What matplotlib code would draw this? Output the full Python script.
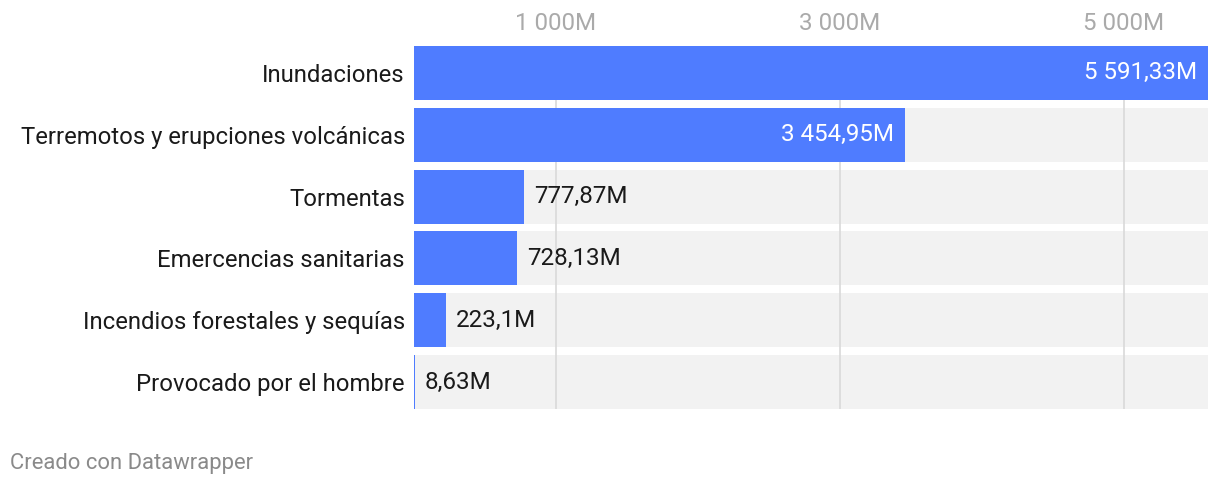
import matplotlib.pyplot as plt

categorias = ["Inundaciones", "Terremotos y erupciones volcánicas", "Tormentas",
              "Emercencias sanitarias", "Incendios forestales y sequías",
              "Provocado por el hombre"]
valores = [5591.33, 3454.95, 777.87, 728.13, 223.1, 8.63]
etiquetas = ["5 591,33M", "3 454,95M", "777,87M", "728,13M", "223,1M", "8,63M"]
ticks = [1000, 3000, 5000]
tick_labels = ["1 000M", "3 000M", "5 000M"]

plt.rcParams['font.family'] = ['Roboto', 'DejaVu Sans']

azul = "#4f7cff"
fig = plt.figure(figsize=(12.2, 4.86), dpi=100)
ax = fig.add_axes([414 / 1220, 1 - 409 / 486, 794 / 1220, 363 / 486])

xmax = max(valores)
alto = 54 / 62
y = list(range(len(categorias)))

# fondo gris de cada fila
ax.barh(y, [xmax] * len(y), height=alto, color="#f2f2f2", zorder=1)
for t in ticks:
    ax.axvline(t, color="#d9d9d9", lw=1.2, zorder=2)
ax.barh(y, valores, height=alto, color=azul, zorder=3)

for yi, v, lab in zip(y, valores, etiquetas):
    px = v / xmax * 794
    if px > 300:
        ax.annotate(lab, (v, yi), xytext=(-7.5, 0), textcoords="offset points",
                    ha="right", va="center", color="white", fontsize=17.4, zorder=4)
    else:
        ax.annotate(lab, (v, yi), xytext=(7, 0), textcoords="offset points",
                    ha="left", va="center", color="#1a1a1a", fontsize=17.4, zorder=4)

ax.set_xlim(0, xmax)
ax.set_ylim(len(y) - 1 + alto / 2, -alto / 2)
ax.set_yticks(y)
ax.set_yticklabels(categorias, fontsize=17.2, color="#1a1a1a")
ax.set_xticks(ticks)
ax.set_xticklabels(tick_labels, fontsize=17.4, color="#aaaaaa")
ax.xaxis.tick_top()
ax.tick_params(axis="x", length=0, pad=8)
ax.tick_params(axis="y", length=0, pad=6.5)
for s in ax.spines.values():
    s.set_visible(False)

fig.text(10 / 1220, 1 - 463 / 486, "Creado con Datawrapper", fontsize=15.8,
         color="#8a8a8a", ha="left", va="center")

fig.savefig("out.png", dpi=100)
